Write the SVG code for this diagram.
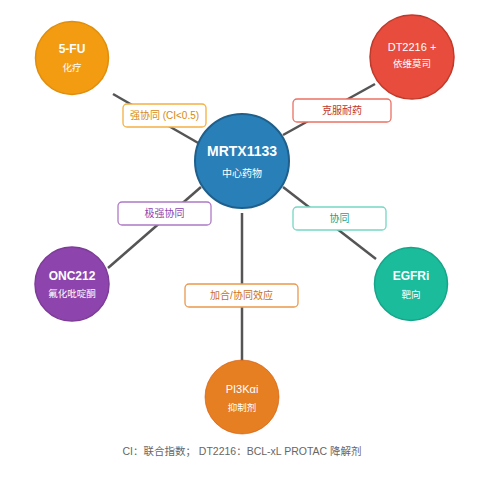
<svg xmlns="http://www.w3.org/2000/svg" width="484" height="479" viewBox="0 0 484 479">
<style>
text{font-family:"Liberation Sans","Noto Sans CJK SC",sans-serif;text-anchor:middle;dominant-baseline:central}
.t{fill:#fff;font-size:12px;font-weight:bold}
.tn{fill:#fff;font-size:11px}
.s{fill:#fff;font-size:9.5px}
.ln{stroke:#555;stroke-width:2.5;fill:none}
.lb{fill:#fff;stroke-width:1.3}
.lt{font-size:10px}
</style>
<rect width="484" height="479" fill="#fff"/>
<g id="connectors">
<line class="ln" x1="113" y1="94" x2="200" y2="144"/>
<line class="ln" x1="375" y1="84" x2="283" y2="135"/>
<line class="ln" x1="201" y1="187" x2="108" y2="268"/>
<line class="ln" x1="283" y1="187" x2="376" y2="259"/>
<line class="ln" x1="242" y1="213" x2="242" y2="361"/>
<g id="label-5fu"><rect class="lb" x="123" y="104" width="83" height="23" rx="4" stroke="#f5b041"/><text class="lt" x="164.5" y="115.5" fill="#d68910">强协同 (CI&lt;0.5)</text></g>
<g id="label-dt"><rect class="lb" x="293" y="99" width="98" height="23" rx="4" stroke="#ec7063"/><text class="lt" x="342" y="110.5" fill="#c0392b">克服耐药</text></g>
<g id="label-onc"><rect class="lb" x="118" y="202" width="93" height="23" rx="4" stroke="#af7ac5"/><text class="lt" x="164.5" y="213.5" fill="#8e44ad">极强协同</text></g>
<g id="label-egfr"><rect class="lb" x="293" y="207" width="93" height="23" rx="4" stroke="#76d7c4"/><text class="lt" x="339.5" y="218.5" fill="#17a589">协同</text></g>
<g id="label-pi3k"><rect class="lb" x="185" y="284" width="113" height="23" rx="4" stroke="#eb984e"/><text class="lt" x="241.5" y="295.5" fill="#ca6f1e">加合/协同效应</text></g>
</g>
<g id="center"><circle cx="242" cy="161" r="47" fill="#2980b9" stroke="#1f5f8b" stroke-width="2"/><text class="t" x="242" y="151" style="font-size:14px">MRTX1133</text><text class="s" x="242" y="173" style="font-size:10px">中心药物</text></g>
<g id="n-5fu"><circle cx="72" cy="58" r="36.5" fill="#f39c12" stroke="#e08e0b" stroke-width="1.5"/><text class="t" x="72" y="49">5-FU</text><text class="s" x="72" y="67">化疗</text></g>
<g id="n-dt2216"><circle cx="412" cy="57" r="42" fill="#e74c3c" stroke="#c0392b" stroke-width="1.5"/><text class="tn" x="412" y="47">DT2216 +</text><text class="s" x="412" y="63">依维莫司</text></g>
<g id="n-onc212"><circle cx="72" cy="284" r="37" fill="#8e44ad" stroke="#7d3c98" stroke-width="1.5"/><text class="t" x="72" y="275.5">ONC212</text><text class="s" x="72" y="293">氟化吡啶酮</text></g>
<g id="n-egfri"><circle cx="411" cy="284" r="36.5" fill="#1abc9c" stroke="#17a589" stroke-width="1.5"/><text class="t" x="411" y="275.5">EGFRi</text><text class="s" x="411" y="294">靶向</text></g>
<g id="n-pi3k"><circle cx="242" cy="397" r="37" fill="#e67e22" stroke="#d35400" stroke-width="1" stroke-opacity="0.6"/><text class="tn" x="242" y="389">PI3Kαi</text><text class="s" x="242" y="407">抑制剂</text></g>
<text x="242" y="451" fill="#666" font-size="10.5">CI：联合指数； DT2216：BCL-xL PROTAC 降解剂</text>
</svg>
